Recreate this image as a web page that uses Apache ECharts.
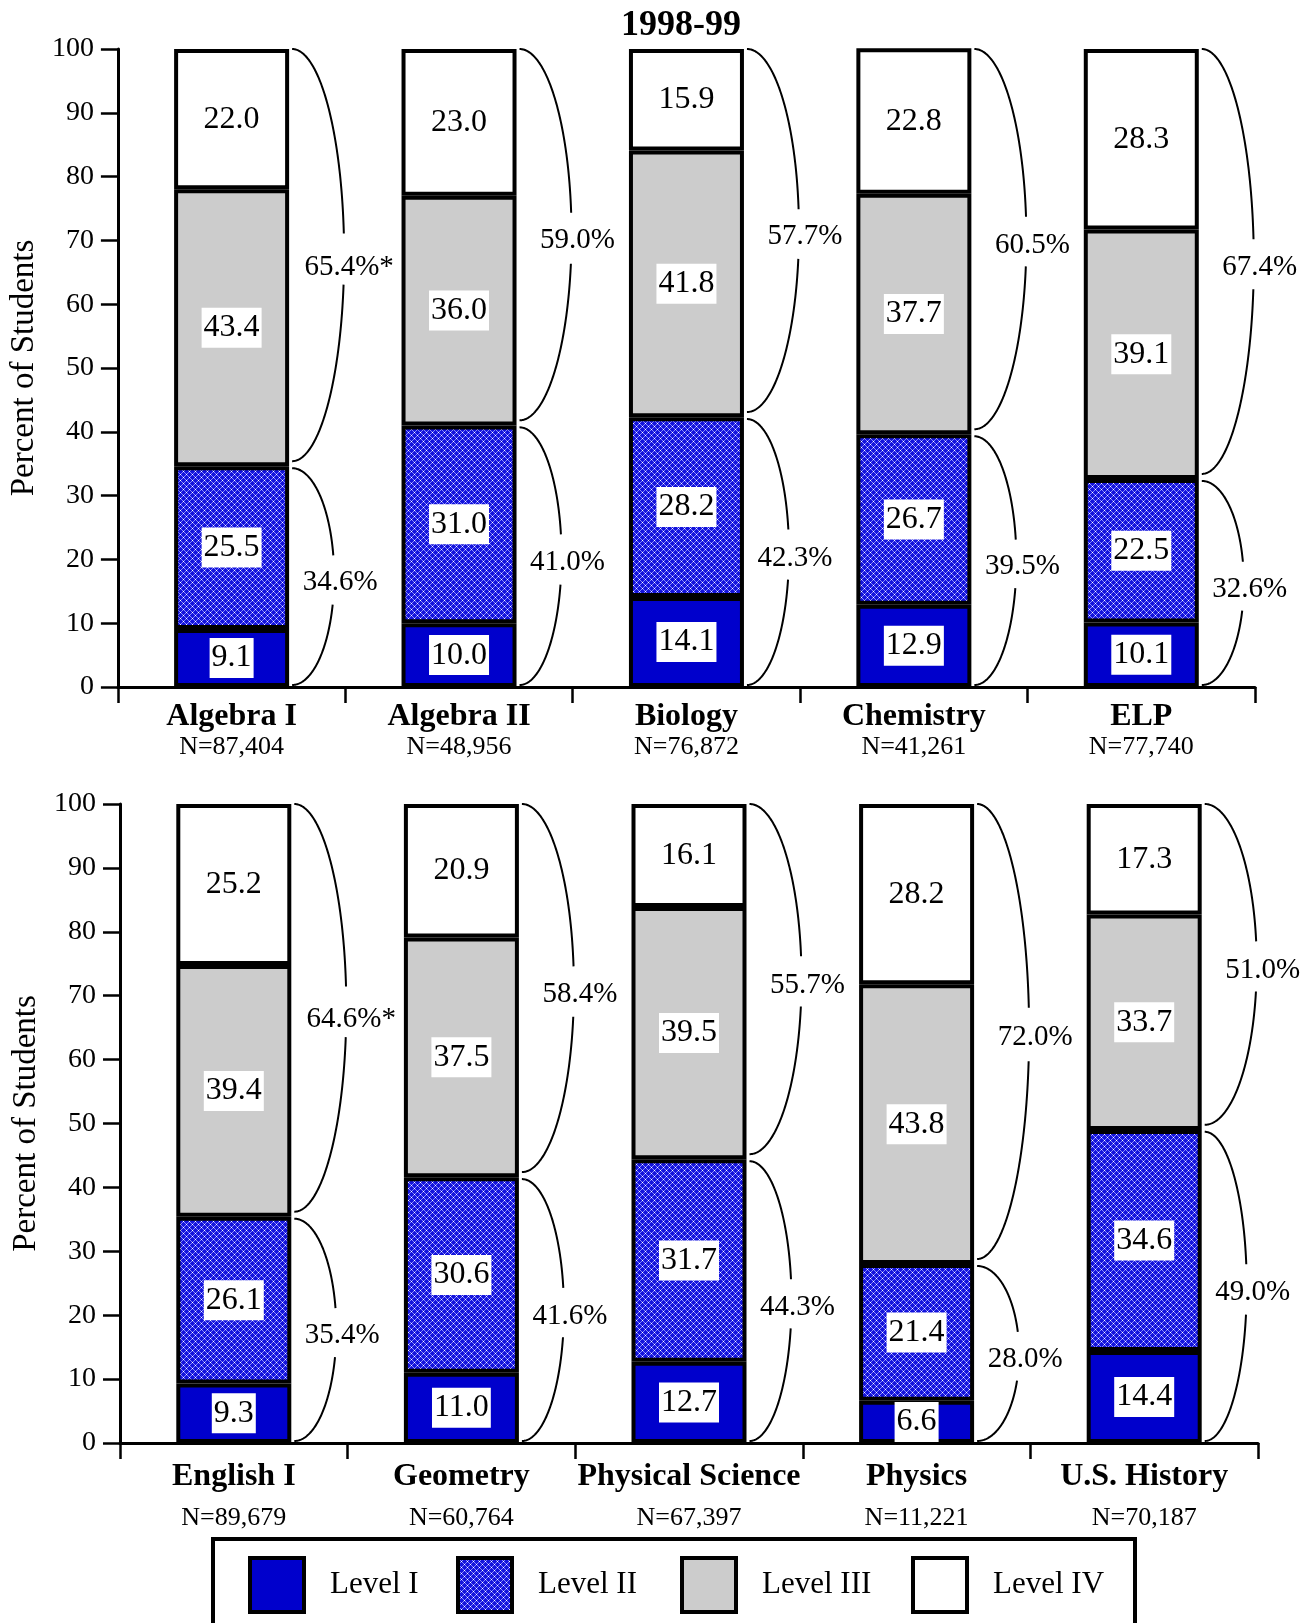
<!DOCTYPE html>
<html><head><meta charset="utf-8">
<script src="https://cdn.jsdelivr.net/npm/echarts@6/dist/echarts.min.js"></script>
<style>html,body{margin:0;padding:0;background:#fff}#c{width:1307px;height:1623px}</style>
</head><body><div id="c"></div>
<script>
const chartTitle = '1998-99';
const levelNames = ['Level I', 'Level II', 'Level III', 'Level IV'];
const yAxisTitle = 'Percent of Students';

const topCategories = ['Algebra I', 'Algebra II', 'Biology', 'Chemistry', 'ELP'];
const topN = ['N=87,404', 'N=48,956', 'N=76,872', 'N=41,261', 'N=77,740'];
const topLevel1 = [9.1, 10.0, 14.1, 12.9, 10.1];
const topLevel2 = [25.5, 31.0, 28.2, 26.7, 22.5];
const topLevel3 = [43.4, 36.0, 41.8, 37.7, 39.1];
const topLevel4 = [22.0, 23.0, 15.9, 22.8, 28.3];
const topUpperPct = ['65.4%*', '59.0%', '57.7%', '60.5%', '67.4%'];
const topLowerPct = ['34.6%', '41.0%', '42.3%', '39.5%', '32.6%'];

const botCategories = ['English I', 'Geometry', 'Physical Science', 'Physics', 'U.S. History'];
const botN = ['N=89,679', 'N=60,764', 'N=67,397', 'N=11,221', 'N=70,187'];
const botLevel1 = [9.3, 11.0, 12.7, 6.6, 14.4];
const botLevel2 = [26.1, 30.6, 31.7, 21.4, 34.6];
const botLevel3 = [39.4, 37.5, 39.5, 43.8, 33.7];
const botLevel4 = [25.2, 20.9, 16.1, 28.2, 17.3];
const botUpperPct = ['64.6%*', '58.4%', '55.7%', '72.0%', '51.0%'];
const botLowerPct = ['35.4%', '41.6%', '44.3%', '28.0%', '49.0%'];

const yMin = 0, yMax = 100, yInterval = 10;

const FONT = '"Liberation Serif", "Times New Roman", serif';
const BAR_W = 115;

// Level II pattern (diamond lattice)
function makePattern() {
  const c = document.createElement('canvas');
  c.width = 6; c.height = 6;
  const g = c.getContext('2d');
  g.fillStyle = '#1414dc'; g.fillRect(0, 0, 6, 6);
  g.fillStyle = '#8686fa';
  for (let x = 0; x < 6; x++) {
    g.fillRect(x, x, 1, 1);
    g.fillRect(x, (6 - x) % 6, 1, 1);
  }
  g.fillStyle = '#ffffff';
  g.fillRect(0, 0, 1, 1); g.fillRect(3, 3, 1, 1);
  return c;
}
const pattern = { image: makePattern(), repeat: 'repeat' };
const levelColors = ['#0000cc', pattern, '#cccccc', '#ffffff'];

function addBrace(ch, x0, yTop, yBot, a, text) {
  const r = (yBot - yTop) / 2, ym = (yTop + yBot) / 2;
  const gapC = ym + 3, gap = 24;
  let seg = [];
  const n = 240;
  for (let k = 0; k <= n; k++) {
    const t = -Math.PI / 2 + Math.PI * k / n;
    const x = x0 + a * Math.cos(t);
    const y = ym + r * Math.sin(t);
    if (Math.abs(y - gapC) < gap) {
      if (seg.length > 1) ch.push({ type: 'polyline', shape: { points: seg }, style: { stroke: '#000', lineWidth: 2, fill: null } });
      seg = [];
    } else seg.push([x, y]);
  }
  if (seg.length > 1) ch.push({ type: 'polyline', shape: { points: seg }, style: { stroke: '#000', lineWidth: 2, fill: null } });
  const star = text.endsWith('*');
  ch.push({ type: 'text', x: x0 + a + (star ? 5 : 6), y: ym + (star ? 12 : 6),
    style: { text: text, fill: '#000', font: '29px ' + FONT, align: 'center', verticalAlign: 'middle' } });
}

function braceRenderer(upperPct, lowerPct) {
  return function (params, api) {
    const i = api.value(0);
    const b = api.value(1);
    const p0 = api.coord([i, 0]);
    const cx = p0[0];
    const y100 = api.coord([i, 100])[1];
    const x0 = cx + BAR_W / 2 + 3;
    const ch = [];
    addBrace(ch, x0, y100, api.coord([i, b + 0.8])[1], 52, upperPct[i]);
    addBrace(ch, x0, api.coord([i, b - 0.3])[1], p0[1] - 2, 42, lowerPct[i]);
    return { type: 'group', children: ch };
  };
}

function barSeries(idx, stack, levels) {
  return levels.map((vals, k) => ({
    type: 'bar', name: levelNames[k], stack: stack,
    xAxisIndex: idx, yAxisIndex: idx, barWidth: BAR_W,
    data: vals,
    itemStyle: { color: levelColors[k], borderColor: '#000', borderWidth: 4 },
    label: { show: true, position: 'inside', color: '#000', fontSize: 32, fontFamily: FONT,
      backgroundColor: '#fff', padding: [3, 2, 2, 2], lineHeight: 35,
      formatter: p => Number(p.value).toFixed(1) },
    emphasis: { disabled: true }
  }));
}

function braceSeries(idx, l1, l2, upper, lower) {
  return {
    type: 'custom', xAxisIndex: idx, yAxisIndex: idx, silent: true, z: 5,
    data: l1.map((v, i) => [i, Math.round((v + l2[i]) * 10) / 10]),
    renderItem: braceRenderer(upper, lower)
  };
}

function xAxis(idx, cats, ns, nameLH, nLH) {
  return {
    type: 'category', gridIndex: idx, data: cats,
    axisLine: { lineStyle: { color: '#000', width: 3 } },
    axisTick: { show: true, length: 16, lineStyle: { color: '#000', width: 2.5 } },
    axisLabel: { margin: 14, color: '#000', fontFamily: FONT,
      formatter: (v, i) => '{a|' + v + '}\n{b|' + ns[i] + '}',
      rich: { a: { fontSize: 32, fontWeight: 'bold', fontFamily: FONT, color: '#000', lineHeight: nameLH },
              b: { fontSize: 26, fontFamily: FONT, color: '#000', lineHeight: nLH } } }
  };
}
function yAxis(idx) {
  return {
    type: 'value', gridIndex: idx, min: yMin, max: yMax, interval: yInterval,
    name: yAxisTitle, nameLocation: 'middle', nameGap: 75,
    nameTextStyle: { fontSize: 33, fontFamily: FONT, color: '#000' },
    axisLine: { show: true, lineStyle: { color: '#000', width: 3 } },
    axisTick: { show: true, length: 17, lineStyle: { color: '#000', width: 2.5 } },
    axisLabel: { margin: 24, fontSize: 28, fontFamily: FONT, color: '#000' },
    splitLine: { show: false }
  };
}

const legendLefts = [248, 456, 680, 911];
const chart = echarts.init(document.getElementById('c'), null, { renderer: 'canvas' });
chart.setOption({
  backgroundColor: '#fff',
  animation: false,
  title: { text: chartTitle, left: 676, top: 3, textAlign: 'center',
    textStyle: { fontSize: 36, fontWeight: 'bold', fontFamily: FONT, color: '#000' } },
  grid: [
    { left: 117, right: 52, top: 49, height: 638 },
    { left: 120, right: 49, top: 804, height: 639 }
  ],
  xAxis: [xAxis(0, topCategories, topN, 31, 31), xAxis(1, botCategories, botN, 40, 42)],
  yAxis: [yAxis(0), yAxis(1)],
  legend: levelNames.map((n, k) => ({
    data: [n], left: legendLefts[k], top: 1556, padding: 0, selectedMode: false,
    icon: 'rect', itemWidth: 54, itemHeight: 54,
    itemStyle: { borderColor: '#000', borderWidth: 4 },
    textStyle: { fontSize: 31, fontFamily: FONT, color: '#000', padding: [0, 0, 0, 21] }
  })),
  graphic: [{ type: 'rect', shape: { x: 213, y: 1539, width: 922, height: 120 },
    style: { fill: null, stroke: '#000', lineWidth: 4 }, silent: true }],
  series: [
    ...barSeries(0, 'top', [topLevel1, topLevel2, topLevel3, topLevel4]),
    ...barSeries(1, 'bot', [botLevel1, botLevel2, botLevel3, botLevel4]),
    braceSeries(0, topLevel1, topLevel2, topUpperPct, topLowerPct),
    braceSeries(1, botLevel1, botLevel2, botUpperPct, botLowerPct)
  ]
});
</script></body></html>
